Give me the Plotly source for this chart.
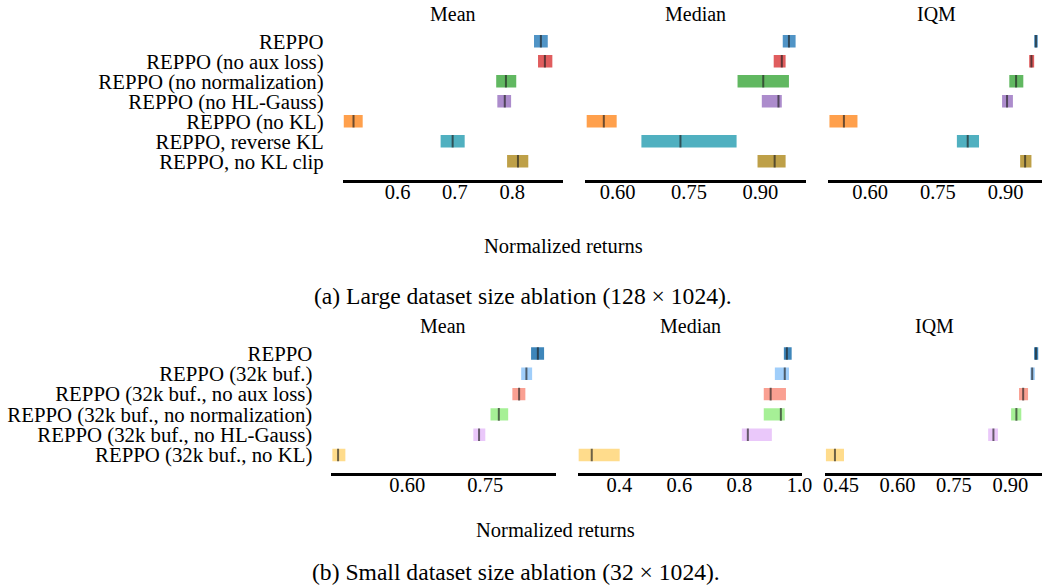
import plotly.graph_objects as go

FONT = "Liberation Serif"

# ---------------- data: large dataset (128 x 1024) ----------------
labels_a = ["REPPO", "REPPO (no aux loss)", "REPPO (no normalization)", "REPPO (no HL-Gauss)",
            "REPPO (no KL)", "REPPO, reverse KL", "REPPO, no KL clip"]
colors_a = ["rgb(80,148,198)", "rgb(224,93,94)", "rgb(97,184,97)", "rgb(172,140,204)",
            "rgb(255,160,76)", "rgb(80,176,192)", "rgb(190,160,72)"]

mean_lo_a = [0.838, 0.845, 0.772, 0.774, 0.506, 0.675, 0.791]
mean_hi_a = [0.862, 0.870, 0.807, 0.798, 0.539, 0.717, 0.828]
mean_mid_a = [0.850, 0.857, 0.789, 0.787, 0.523, 0.696, 0.810]

median_lo_a = [0.947, 0.928, 0.852, 0.903, 0.535, 0.650, 0.894]
median_hi_a = [0.974, 0.953, 0.960, 0.945, 0.598, 0.850, 0.953]
median_mid_a = [0.960, 0.945, 0.906, 0.938, 0.571, 0.732, 0.930]

iqm_lo_a = [0.963, 0.952, 0.908, 0.892, 0.510, 0.792, 0.932]
iqm_hi_a = [0.971, 0.963, 0.939, 0.916, 0.572, 0.841, 0.957]
iqm_mid_a = [0.967, 0.957, 0.923, 0.903, 0.542, 0.816, 0.943]

# ---------------- data: small dataset (32 x 1024) ----------------
labels_b = ["REPPO", "REPPO (32k buf.)", "REPPO (32k buf., no aux loss)",
            "REPPO (32k buf., no normalization)", "REPPO (32k buf., no HL-Gauss)",
            "REPPO (32k buf., no KL)"]
colors_b = ["rgb(62,134,186)", "rgb(160,206,250)", "rgb(250,160,146)", "rgb(166,240,150)",
            "rgb(234,200,250)", "rgb(255,220,140)"]

mean_lo_b = [0.838, 0.819, 0.802, 0.760, 0.727, 0.456]
mean_hi_b = [0.863, 0.840, 0.827, 0.794, 0.750, 0.481]
mean_mid_b = [0.851, 0.829, 0.815, 0.776, 0.738, 0.467]

median_lo_b = [0.948, 0.918, 0.881, 0.881, 0.808, 0.264]
median_hi_b = [0.974, 0.965, 0.955, 0.951, 0.908, 0.401]
median_mid_b = [0.958, 0.951, 0.904, 0.938, 0.828, 0.308]

iqm_lo_b = [0.963, 0.953, 0.923, 0.902, 0.841, 0.410]
iqm_hi_b = [0.974, 0.965, 0.947, 0.929, 0.867, 0.458]
iqm_mid_b = [0.968, 0.958, 0.934, 0.916, 0.855, 0.434]

panel_titles = ["Mean", "Median", "IQM"]

ticks_a = [([0.6, 0.7, 0.8], ["0.6", "0.7", "0.8"]),
           ([0.6, 0.75, 0.9], ["0.60", "0.75", "0.90"]),
           ([0.6, 0.75, 0.9], ["0.60", "0.75", "0.90"])]
ticks_b = [([0.6, 0.75], ["0.60", "0.75"]),
           ([0.4, 0.6, 0.8, 1.0], ["0.4", "0.6", "0.8", "1.0"]),
           ([0.45, 0.6, 0.75, 0.9], ["0.45", "0.60", "0.75", "0.90"])]

xlabel = "Normalized returns"
caption_a = "(a) Large dataset size ablation (128 × 1024)."
caption_b = "(b) Small dataset size ablation (32 × 1024)."

# ---------------- layout geometry ----------------
REF_W, H = 1042, 588
W = 1055
def px(x):
    return x / REF_W
def py(y):
    return 1 - y / H

xdom_a = [[px(340.3), px(560.7)], [px(582.7), px(803.3)], [px(825.3), 1.0]]
xrng_a = [[0.504, 0.889], [0.532, 0.996], [0.507, 0.987]]
ydom_a = [py(179.7), py(29.3)]
yrng_a = [6.92, -0.6]

xdom_b = [[px(329), px(553)], [px(575.7), px(799.7)], [px(822), 1.0]]
xrng_b = [[0.454, 0.885], [0.263, 1.010], [0.407, 0.992]]
ydom_b = [py(472.7), py(341.3)]
yrng_b = [5.87, -0.6]

fig = go.Figure()
layout = dict(width=W, height=H, margin=dict(l=0, r=0, t=0, b=0),
              paper_bgcolor="white", plot_bgcolor="white", showlegend=False,
              font=dict(family=FONT, size=20, color="black"))

annotations = []

def add_group(idx0, labels, colors, panels, xdoms, xrngs, ydom, yrng, ticks, barw, title_y):
    ypos = list(range(len(labels)))
    for k, (lo, hi, mid) in enumerate(panels):
        n = idx0 + k
        xa = "x" if n == 1 else f"x{n}"
        ya = "y" if n == 1 else f"y{n}"
        fig.add_trace(go.Bar(
            y=ypos, x=[h - l for l, h in zip(lo, hi)], base=lo, orientation="h",
            width=barw, marker=dict(color=colors, line=dict(width=0)),
            xaxis=xa, yaxis=ya, hoverinfo="skip"))
        fig.add_trace(go.Scatter(
            y=ypos, x=mid, mode="markers",
            marker=dict(symbol="line-ns", size=9,
                        line=dict(width=2, color="rgba(30,30,30,0.65)")),
            xaxis=xa, yaxis=ya, hoverinfo="skip"))
        xkey = "xaxis" if n == 1 else f"xaxis{n}"
        ykey = "yaxis" if n == 1 else f"yaxis{n}"
        layout[xkey] = dict(domain=xdoms[k], range=xrngs[k], anchor=ya,
                            showgrid=False, zeroline=False, showline=True,
                            linecolor="black", linewidth=3, ticks="",
                            ticklabelstandoff=-8,
                            tickvals=ticks[k][0], ticktext=ticks[k][1],
                            tickfont=dict(family=FONT, size=20.5, color="black"))
        layout[ykey] = dict(domain=ydom, range=yrng, anchor=xa,
                            showgrid=False, zeroline=False, showline=False,
                            tickvals=ypos, ticktext=labels if k == 0 else None,
                            showticklabels=(k == 0), ticks="",
                            ticklabelstandoff=18,
                            tickfont=dict(family=FONT, size=20.8, color="black"))
        annotations.append(dict(text=panel_titles[k], xref="paper", yref="paper",
                                x=(xdoms[k][0] + xdoms[k][1]) / 2, y=title_y,
                                xanchor="center", yanchor="middle", showarrow=False,
                                font=dict(family=FONT, size=20, color="black")))

add_group(1, labels_a, colors_a,
          [(mean_lo_a, mean_hi_a, mean_mid_a), (median_lo_a, median_hi_a, median_mid_a),
           (iqm_lo_a, iqm_hi_a, iqm_mid_a)],
          xdom_a, xrng_a, ydom_a, yrng_a, ticks_a, 0.63, py(14))
add_group(4, labels_b, colors_b,
          [(mean_lo_b, mean_hi_b, mean_mid_b), (median_lo_b, median_hi_b, median_mid_b),
           (iqm_lo_b, iqm_hi_b, iqm_mid_b)],
          xdom_b, xrng_b, ydom_b, yrng_b, ticks_b, 0.61, py(326))

annotations += [
    dict(text=xlabel, xref="paper", yref="paper", x=px(560.5), y=py(246),
         xanchor="center", yanchor="middle", showarrow=False,
         font=dict(family=FONT, size=20.5, color="black")),
    dict(text=caption_a, xref="paper", yref="paper", x=px(520.8), y=py(296),
         xanchor="center", yanchor="middle", showarrow=False,
         font=dict(family=FONT, size=23.6, color="black")),
    dict(text=xlabel, xref="paper", yref="paper", x=px(552.5), y=py(530),
         xanchor="center", yanchor="middle", showarrow=False,
         font=dict(family=FONT, size=20.5, color="black")),
    dict(text=caption_b, xref="paper", yref="paper", x=px(514), y=py(572),
         xanchor="center", yanchor="middle", showarrow=False,
         font=dict(family=FONT, size=23.6, color="black")),
]
layout["annotations"] = annotations
fig.update_layout(**layout)

post = ("document.documentElement.style.overflow='hidden';"
        "document.body.style.overflow='hidden';"
        "document.body.style.margin='0px';document.body.style.padding='0px';")
fig.write_html("out.html", config={"displayModeBar": False, "responsive": False},
               post_script=post)
